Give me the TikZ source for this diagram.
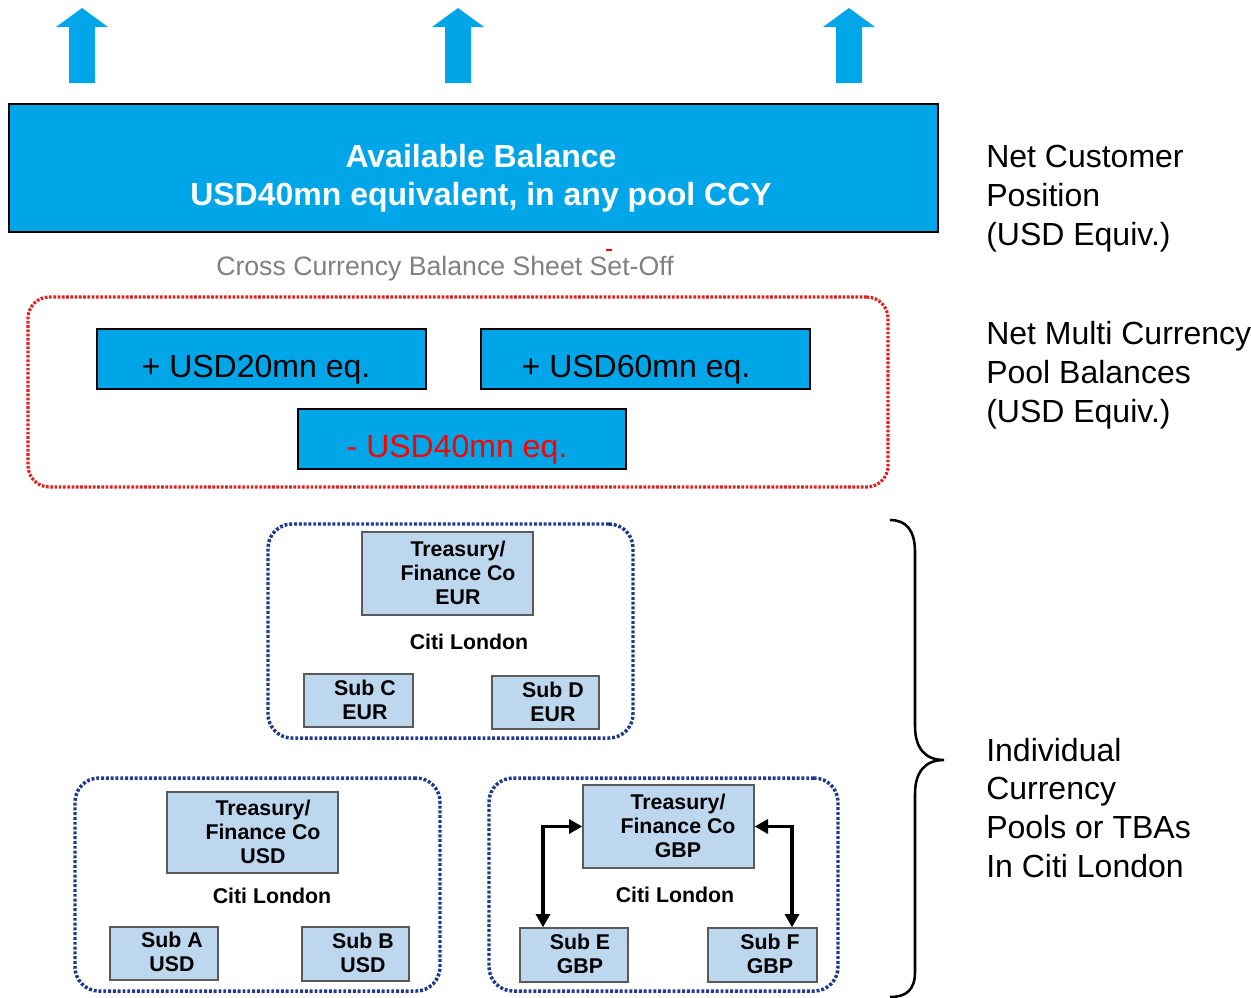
\documentclass[tikz,border=0pt]{standalone}
\usepackage{fontspec}
\setmainfont{Liberation Sans}
\usetikzlibrary{arrows.meta,fit}
\definecolor{poolcyan}{RGB}{0,166,232}
\definecolor{paleblue}{RGB}{189,215,238}
\definecolor{navydot}{RGB}{31,58,138}
\definecolor{reddot}{RGB}{226,32,32}
\definecolor{setoffgray}{RGB}{128,128,128}
\definecolor{boxedge}{RGB}{90,90,90}
\begin{document}
\begin{tikzpicture}[x=0.75pt,y=-0.75pt,
  cyanbox/.style={draw=black, line width=1.2pt, fill=poolcyan, inner sep=0pt},
  palebox/.style={draw=boxedge, line width=1pt, fill=paleblue, inner sep=0pt},
  netpool/.style={draw=reddot, line width=2.4pt, dash pattern=on 2pt off 1.2pt, rounded corners=16pt, inner sep=0pt},
  ccypool/.style={draw=navydot, line width=2.6pt, dash pattern=on 2.2pt off 1.4pt, rounded corners=18pt, inner sep=0pt},
  sidetext/.style={font=\fontsize{24}{28.9}\selectfont, align=left, anchor=base west, inner sep=0pt},
  amount/.style={font=\fontsize{24}{28.9}\selectfont, anchor=base, inner sep=0pt},
  entity/.style={font=\fontsize{16}{18}\selectfont\bfseries, align=center, anchor=base, inner sep=0pt},
  link/.style={line width=2.5pt, {Triangle[length=10pt,width=10.5pt]}-{Triangle[length=10pt,width=10.5pt]}}
]
\useasboundingbox (0,0) rectangle (1251,997);

% upward block arrows
\foreach \cx in {82,458,849}
  \fill[poolcyan] (\cx-13,83) -- (\cx-13,27) -- (\cx-26,27) -- (\cx,8)
    -- (\cx+26,27) -- (\cx+13,27) -- (\cx+13,83) -- cycle;

% available balance (multi-line nodes are anchored at the last baseline)
\node[cyanbox, fit={(9,104) (938,232)}] (avail) {};
\node[font=\fontsize{24}{28.5}\selectfont\bfseries, text=white, align=center, anchor=base, inner sep=0pt]
  (availtext) at (481,205) {Available Balance\\USD40mn equivalent, in any pool CCY};

% set-off caption
\node[font=\fontsize{20}{24}\selectfont, text=setoffgray, anchor=base, inner sep=0pt]
  (setoff) at (445,275) {Cross Currency Balance Sheet Set-Off};
\fill[red] (606,248.5) rectangle (612,251);

% multi currency pool
\node[netpool, fit={(28,297) (888,487)}] (netpool) {};
\node[cyanbox, fit={(97,329) (426,389)}] (usd20) {};
\node[amount] (usd20t) at (256,377) {+ USD20mn eq.};
\node[cyanbox, fit={(481,329) (810,389)}] (usd60) {};
\node[amount] (usd60t) at (636,377) {+ USD60mn eq.};
\node[cyanbox, fit={(298,409) (626,469)}] (usd40) {};
\node[amount, text=red] (usd40t) at (457,457) {- USD40mn eq.};

% EUR pool
\node[ccypool, fit={(268,524) (633,738)}] (eurpool) {};
\node[palebox, fit={(362,532) (533,615)}] (eurtre) {};
\node[entity] (eurtret) at (458,604) {Treasury/\\Finance Co\\EUR};
\node[entity] (eurcity) at (469,649) {Citi London};
\node[palebox, fit={(304,674) (413,727)}] (subc) {};
\node[entity] (subct) at (365,719) {Sub C\\EUR};
\node[palebox, fit={(492,676) (599,729)}] (subd) {};
\node[entity] (subdt) at (553,721) {Sub D\\EUR};

% USD pool
\node[ccypool, fit={(75,778) (440,991)}] (usdpool) {};
\node[palebox, fit={(167,792) (338,873)}] (usdtre) {};
\node[entity] (usdtret) at (263,863) {Treasury/\\Finance Co\\USD};
\node[entity] (usdcity) at (272,903) {Citi London};
\node[palebox, fit={(110,927) (218,980)}] (suba) {};
\node[entity] (subat) at (172,971) {Sub A\\USD};
\node[palebox, fit={(302,927) (409,981)}] (subb) {};
\node[entity] (subbt) at (363,972) {Sub B\\USD};

% GBP pool
\node[ccypool, fit={(489,778) (838,991)}] (gbppool) {};
\node[palebox, fit={(583,785) (754,868)}] (gbptre) {};
\node[entity] (gbptret) at (678,857) {Treasury/\\Finance Co\\GBP};
\node[entity] (gbpcity) at (675,902) {Citi London};
\node[palebox, fit={(520,928) (628,982)}] (sube) {};
\node[entity] (subet) at (580,973) {Sub E\\GBP};
\node[palebox, fit={(708,928) (817,982)}] (subf) {};
\node[entity] (subft) at (770,973) {Sub F\\GBP};
\coordinate (eknee) at (543,827);
\coordinate (fknee) at (792,827);
\draw[link] (gbptre.west) -| (eknee |- sube.north);
\draw[link] (gbptre.east) -| (fknee |- subf.north);

% brace
\draw[line width=1.9pt] (890,520) .. controls (906,520) and (915,530) .. (915,552)
  -- (915,726) .. controls (915,748) and (925,760) .. (944,760)
  .. controls (925,760) and (915,772) .. (915,794)
  -- (915,972) .. controls (915,990) and (906,997) .. (890,997);

% side captions
\node[sidetext] (netcust) at (986,245) {Net Customer\\Position\\(USD Equiv.)};
\node[sidetext] (netmulti) at (986,422) {Net Multi Currency\\Pool Balances\\(USD Equiv.)};
\node[sidetext] (indiv) at (986,877) {Individual\\Currency\\Pools or TBAs\\In Citi London};
\end{tikzpicture}
\end{document}
